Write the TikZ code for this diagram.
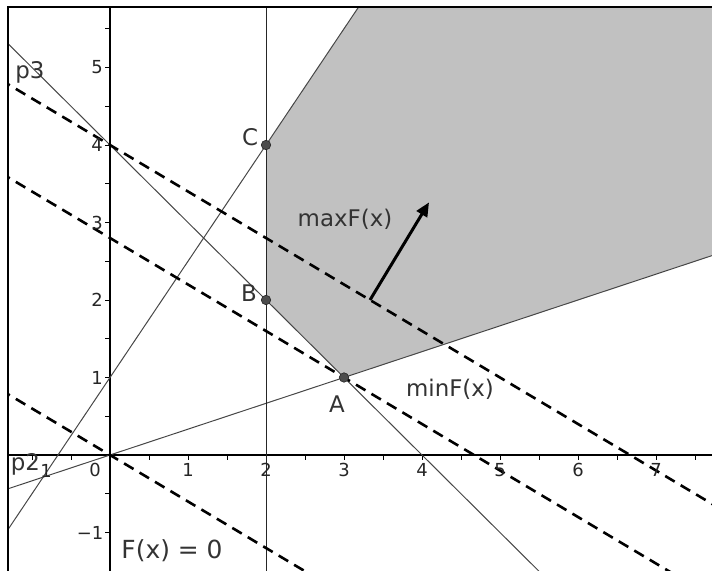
\documentclass[tikz,border=0pt]{standalone}
\usepackage{fontspec}
\setmainfont{DejaVu Sans}
\usetikzlibrary{arrows.meta}
\begin{document}
\begin{tikzpicture}[x=78bp,y=77.5bp,
  thinline/.style={draw=black!72, line width=1bp},
  vline/.style={draw=black!85, line width=1bp},
  level/.style={draw=black, line width=2.6bp, dash pattern=on 11bp off 7bp},
  axisline/.style={draw=black, line width=1.2bp},
  tickmark/.style={draw=black, line width=0.8bp},
  ticklab/.style={font=\fontsize{18}{18}\selectfont, text=black!85, inner sep=0pt},
  lab/.style={font=\fontsize{23}{23}\selectfont, text=black!80, inner sep=0pt},
  pt/.style={circle, fill=black!70, draw=black!85, line width=0.6bp, inner sep=0pt, minimum size=9.5bp}]
\useasboundingbox (-1.4103,-1.4968) rectangle (7.7179,5.8710);
\begin{scope}
\clip (-1.3077,-1.4968) rectangle (7.7179,5.7806);
\fill[fill=black!24.5] (2,4) -- (2,2) -- (3,1) -- (8,8/3) -- (8,6) -- (10/3,6) -- cycle;
% axes
\draw[axisline] (-1.4,0) -- (7.8,0);
\draw[axisline] (0,-1.6) -- (0,5.9);
\foreach \t in {-1,-0.5,0.5,1,...,7.5} \draw[tickmark] (\t,0) -- ++(0,-5bp);
\foreach \t in {-1.5,-1,-0.5,0.5,1,...,5.5} \draw[tickmark] (0,\t) -- ++(-5bp,0);
% constraint lines
\draw[thinline] (-2,-2) -- (4,7);
\draw[thinline] (-3,-1) -- (9,3);
\draw[thinline] (-2,6) -- (6,-2);
\draw[vline] (2,-2) -- (2,7);
% level lines
\draw[level] (-2,1.2) -- (3,-1.8);
\draw[level] (-2,4) -- (8,-2);
\draw[level] (-2,5.2) -- (9,-1.4);
\end{scope}
% frame
\draw[line width=1.2bp] (-1.3077,-1.4968) -- (-1.3077,5.7806) -- (7.7179,5.7806);
% gradient arrow
\coordinate (g0) at (10/3,2);
\coordinate (g1) at (4.09,3.26);
\draw[line width=3bp, -{Triangle[length=14bp,width=12bp]}] (g0) -- (g1);
% points
\node[pt] (A) at (3,1) {};
\node[pt] (B) at (2,2) {};
\node[pt] (C) at (2,4) {};
\node[lab] (lA) at (2.910,0.658) {A};
\node[lab] (lB) at (1.782,2.090) {B};
\node[lab] (lC) at (1.795,4.103) {C};
% labels
\node[lab] (lmax) at (3.013,3.045) {maxF(x)};
\node[lab] (lmin) at (4.359,0.852) {minF(x)};
\node[lab, font=\fontsize{25}{25}\selectfont] (lzero) at (0.795,-1.239) {F(x) = 0};
\node[lab] (lp3) at (-1.026,4.942) {p3};
\node[lab] (lp2) at (-1.085,-0.12) {p2};
\node[ticklab] (lp2b) at (-0.82,-0.21) {1};
% tick labels
\node[ticklab] (x0) at (-0.192,-0.194) {0};
\foreach \k in {1,...,7} \node[ticklab] (x\k) at (\k,-0.194) {\k};
\foreach \k in {1,...,5} \node[ticklab] (y\k) at (-0.167,\k) {\k};
\node[ticklab] (ym1) at (-0.256,-1) {−1};
\end{tikzpicture}
\end{document}
